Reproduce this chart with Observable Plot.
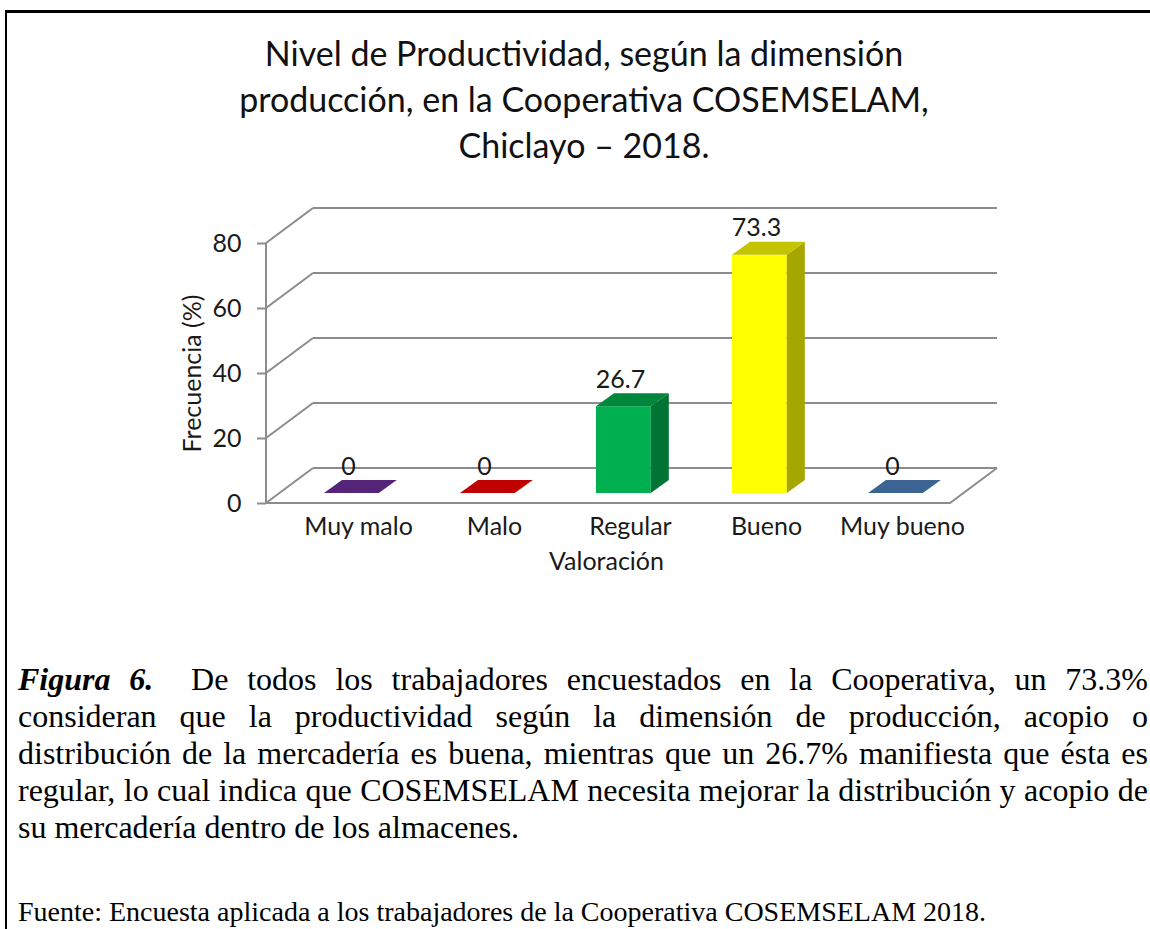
<!DOCTYPE html>
<html>
<head>
<meta charset="utf-8">
<script src="https://cdn.jsdelivr.net/npm/d3@7"></script>
<script src="https://cdn.jsdelivr.net/npm/@observablehq/plot@0.6"></script>
<style>
  html, body { margin: 0; padding: 0; width: 1150px; height: 929px; overflow: hidden; background: #fff; }
  #frame { position: absolute; left: 5px; top: 10px; width: 1400px; height: 1200px; border-left: 2px solid #000; border-top: 3px solid #000; }
  #chart { position: absolute; left: 0; top: 0; }
  #title { position: absolute; left: 0; top: 30px; width: 1168px; text-align: center; font-family: Lato, sans-serif; font-size: 34px; line-height: 46px; color: #111; }
  #caption { position: absolute; left: 18px; top: 661px; width: 1130px; font-family: "Liberation Serif", serif; font-size: 32px; line-height: 37px; color: #000; }
  #caption div { white-space: nowrap; text-align: justify; text-align-last: justify; }
  #caption div.last { text-align-last: left; }
  #source { position: absolute; left: 18px; top: 896px; font-family: "Liberation Serif", serif; font-size: 28px; line-height: 32px; color: #000; white-space: nowrap; }
</style>
</head>
<body>
<div id="frame"></div>
<div id="chart"></div>
<div id="title"></div>
<div id="caption"></div>
<div id="source"></div>
<script>
// ---------- data ----------
const categorias = ["Muy malo", "Malo", "Regular", "Bueno", "Muy bueno"];
const frecuencia = [0, 0, 26.7, 73.3, 0];
const etiquetas = ["0", "0", "26.7", "73.3", "0"];
const yTicks = [0, 20, 40, 60, 80];

const tituloLineas = [
  "Nivel de Productividad, según la dimensión",
  "producción, en la Cooperativa COSEMSELAM,",
  "Chiclayo – 2018."
];
const ejeX = "Valoración";
const ejeY = "Frecuencia (%)";
const captionLines = [
  "<b><i>Figura 6.</i></b>&nbsp; De todos los trabajadores encuestados en la Cooperativa, un 73.3%",
  "consideran que la productividad según la dimensión de producción, acopio o",
  "distribución de la mercadería es buena, mientras que un 26.7% manifiesta que ésta es",
  "regular, lo cual indica que COSEMSELAM necesita mejorar la distribución y acopio de",
  "su mercadería dentro de los almacenes."
];
const fuente = "Fuente: Encuesta aplicada a los trabajadores de la Cooperativa COSEMSELAM 2018.";

// ---------- styles ----------
const frontColors = ["#7030a0", "#c00000", "#00b050", "#ffff00", "#4f81bd"];
const sideColors  = ["#4a1c6c", "#8a0000", "#007434", "#a6a600", "#2f5a8a"];
const topColors   = ["#542479", "#c00000", "#00873c", "#c4c400", "#3c6493"];
const GRID = "#8c8c8c";
const DEPTH_DX = 47, DEPTH_DY = -35;      // back wall offset
const BAR_DX = 15, BAR_DY = -10;          // bar front face offset into depth
const SIDE_DX = 18, SIDE_DY = -13;        // bar depth
const BAR_INSET = 41;
const CHART_FONT = "Lato, sans-serif";
const CHART_SIZE = 25;

const data = categorias.map((c, i) => ({cat: c, value: frecuencia[i], label: etiquetas[i]}));

// ---------- 3D walls ----------
function walls(index, scales, values, dims) {
  const L = dims.marginLeft, R = dims.width - dims.marginRight;
  const y = scales.y;
  const y0 = y(0);
  const g = d3.create("svg:g").attr("fill", "none").attr("stroke", GRID).attr("stroke-width", 2);
  g.append("path").attr("fill", "#fff").attr("stroke", "none")
    .attr("d", `M${L},${y0}L${R},${y0}L${R + DEPTH_DX},${y0 + DEPTH_DY}L${L + DEPTH_DX},${y0 + DEPTH_DY}Z`);
  for (const t of yTicks) {
    const yy = y(t);
    g.append("path").attr("d", `M${L + DEPTH_DX},${yy + DEPTH_DY}H${R + DEPTH_DX}`);
    g.append("path").attr("d", `M${L},${yy}L${L + DEPTH_DX},${yy + DEPTH_DY}`);
  }
  g.append("path").attr("d", `M${L},${y(yTicks[yTicks.length - 1])}V${y0}`);
  g.append("path").attr("d", `M${L},${y0}H${R}L${R + DEPTH_DX},${y0 + DEPTH_DY}`);
  return g.node();
}

// ---------- 3D bars ----------
function bars(index, scales, values, dims) {
  const L = dims.marginLeft, R = dims.width - dims.marginRight;
  const bw = (R - L) / categorias.length;
  const w = bw - 2 * BAR_INSET;
  const g = d3.create("svg:g");
  data.forEach((d, i) => {
    const x0 = scales.x(d.cat) + BAR_INSET + BAR_DX, x1 = x0 + w;
    const yb = scales.y(0) + BAR_DY, yt = scales.y(d.value) + BAR_DY;
    if (yb - yt > 0.5) {
      g.append("rect").attr("x", x0).attr("y", yt).attr("width", w).attr("height", yb - yt).attr("fill", frontColors[i]);
      g.append("path").attr("fill", sideColors[i])
        .attr("d", `M${x1},${yb}L${x1 + SIDE_DX},${yb + SIDE_DY}L${x1 + SIDE_DX},${yt + SIDE_DY}L${x1},${yt}Z`);
    }
    g.append("path").attr("fill", topColors[i])
      .attr("d", `M${x0},${yt}L${x1},${yt}L${x1 + SIDE_DX},${yt + SIDE_DY}L${x0 + SIDE_DX},${yt + SIDE_DY}Z`);
  });
  return g.node();
}

const chart = Plot.plot({
  width: 1150,
  height: 600,
  marginLeft: 266,
  marginRight: 200,
  marginTop: 243,
  marginBottom: 97,
  style: {background: "transparent", fontFamily: CHART_FONT, fontSize: CHART_SIZE + "px", color: "#1a1a1a", overflow: "visible"},
  x: {type: "band", domain: categorias, padding: 0, label: null},
  y: {domain: [0, 80], label: null},
  marks: [
    walls,
    Plot.axisY({ticks: yTicks, tickSize: 9, tickPadding: 16, stroke: GRID, strokeWidth: 2, fill: "#1a1a1a", fontSize: CHART_SIZE, label: null}),
    Plot.axisX({tickSize: 0, tickPadding: 14, dx: 22, fill: "#1a1a1a", fontSize: CHART_SIZE, label: null}),
    bars,
    Plot.text(data, {x: "cat", y: "value", text: "label", dx: 12, dy: -37, lineAnchor: "middle", fontSize: CHART_SIZE, fill: "#1a1a1a"}),
    Plot.text([ejeX], {text: d => d, frameAnchor: "bottom", textAnchor: "middle", lineAnchor: "middle", dy: 58, dx: -2, fontSize: CHART_SIZE, fill: "#1a1a1a"}),
    Plot.text([ejeY], {text: d => d, frameAnchor: "left", textAnchor: "middle", lineAnchor: "middle", rotate: -90, dx: -74, fontSize: CHART_SIZE, fill: "#1a1a1a"})
  ]
});
document.getElementById("chart").appendChild(chart);

document.getElementById("title").innerHTML = tituloLineas.map(t => `<div>${t}</div>`).join("");
document.getElementById("caption").innerHTML = captionLines.map((t, i) =>
  `<div class="${i === captionLines.length - 1 ? "last" : ""}">${t}</div>`).join("");
document.getElementById("source").textContent = fuente;
</script>
</body>
</html>
